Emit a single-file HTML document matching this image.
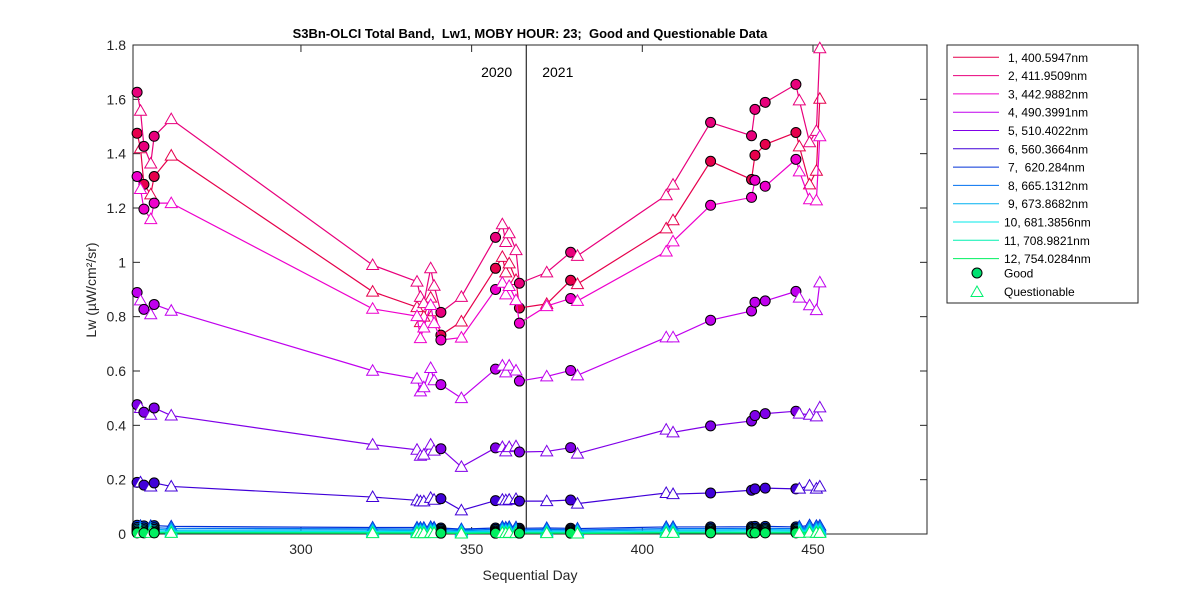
<!DOCTYPE html>
<html><head><meta charset="utf-8"><style>
body{margin:0;background:#fff;}
svg{display:block;font-family:"Liberation Sans",Arial,sans-serif;}
</style></head><body>
<svg id="chart" width="1200" height="600" viewBox="0 0 1200 600" xmlns="http://www.w3.org/2000/svg">
<rect width="1200" height="600" fill="#fff"/>
<g id="plot"></g>
</svg>
<script>
const days=[252,253,254,256,257,262,321,334,335,336,338,339,341,347,357,359,360,361,363,364,372,379,381,407,409,420,432,433,436,445,446,449,451,452];
const good=[1,0,1,0,1,0,0,0,0,0,0,0,1,0,1,0,0,0,0,1,0,1,0,0,0,1,1,1,1,1,0,0,0,0];
const band1=[1.475,1.42,1.287,1.25,1.316,1.393,0.892,0.835,0.78,0.80,0.87,0.82,0.732,0.782,0.978,1.02,0.963,0.996,0.935,0.832,0.847,0.934,0.92,1.125,1.155,1.372,1.305,1.394,1.434,1.478,1.427,1.287,1.337,1.602];
const band2=[1.626,1.558,1.427,1.364,1.464,1.527,0.99,0.929,0.873,0.85,0.978,0.914,0.816,0.873,1.092,1.14,1.075,1.107,1.045,0.923,0.963,1.037,1.024,1.247,1.286,1.515,1.466,1.563,1.589,1.655,1.596,1.442,1.484,1.788];
const band3=[1.316,1.27,1.196,1.159,1.218,1.218,0.829,0.802,0.721,0.76,0.843,0.776,0.714,0.723,0.9,0.925,0.882,0.913,0.861,0.776,0.839,0.867,0.858,1.04,1.077,1.21,1.239,1.302,1.28,1.379,1.335,1.232,1.228,1.464];
const band4=[0.889,0.86,0.827,0.809,0.845,0.822,0.601,0.572,0.525,0.54,0.611,0.566,0.55,0.5,0.607,0.62,0.595,0.62,0.602,0.563,0.58,0.602,0.584,0.724,0.724,0.787,0.821,0.853,0.858,0.893,0.87,0.842,0.824,0.926];
const band5=[0.476,0.464,0.448,0.439,0.464,0.436,0.329,0.31,0.288,0.292,0.329,0.307,0.314,0.247,0.317,0.32,0.304,0.32,0.323,0.302,0.304,0.318,0.296,0.384,0.374,0.398,0.416,0.436,0.443,0.452,0.443,0.439,0.433,0.466];
const band6=[0.19,0.19,0.18,0.175,0.188,0.175,0.136,0.124,0.12,0.12,0.133,0.126,0.13,0.087,0.123,0.126,0.124,0.126,0.129,0.121,0.121,0.125,0.112,0.151,0.147,0.151,0.161,0.166,0.169,0.166,0.167,0.178,0.167,0.175];
const band7=[0.032,0.03,0.03,0.03,0.031,0.028,0.024,0.024,0.023,0.023,0.026,0.024,0.022,0.018,0.022,0.026,0.024,0.026,0.025,0.021,0.022,0.021,0.02,0.026,0.026,0.026,0.027,0.028,0.028,0.026,0.027,0.032,0.03,0.031];
const band8=[0.024,0.023,0.022,0.022,0.023,0.021,0.019,0.018,0.018,0.018,0.02,0.018,0.017,0.014,0.017,0.02,0.018,0.02,0.019,0.016,0.017,0.016,0.015,0.02,0.02,0.02,0.021,0.021,0.021,0.02,0.021,0.025,0.023,0.024];
const band9=[0.018,0.017,0.016,0.016,0.017,0.015,0.014,0.013,0.013,0.013,0.015,0.013,0.012,0.01,0.012,0.015,0.013,0.015,0.014,0.012,0.012,0.012,0.011,0.015,0.015,0.015,0.016,0.016,0.016,0.015,0.016,0.019,0.017,0.018];
const band10=[0.012,0.011,0.011,0.011,0.011,0.01,0.009,0.009,0.009,0.009,0.01,0.009,0.008,0.007,0.008,0.01,0.009,0.01,0.009,0.008,0.008,0.008,0.007,0.01,0.01,0.01,0.011,0.011,0.011,0.01,0.011,0.013,0.012,0.012];
const band11=[0.007,0.006,0.006,0.006,0.006,0.006,0.005,0.005,0.005,0.005,0.006,0.005,0.005,0.004,0.005,0.006,0.005,0.006,0.005,0.005,0.005,0.005,0.004,0.006,0.006,0.006,0.006,0.006,0.006,0.006,0.006,0.008,0.007,0.007];
const band12=[0.004,0.004,0.004,0.004,0.004,0.004,0.003,0.003,0.003,0.003,0.004,0.003,0.003,0.002,0.003,0.004,0.003,0.004,0.003,0.003,0.003,0.003,0.002,0.004,0.004,0.004,0.004,0.004,0.004,0.004,0.004,0.005,0.004,0.004];
const bandLabels=["1, 400.5947nm","2, 411.9509nm","3, 442.9882nm","4, 490.3991nm","5, 510.4022nm","6, 560.3664nm","7,  620.284nm","8, 665.1312nm","9, 673.8682nm","10, 681.3856nm","11, 708.9821nm","12, 754.0284nm"];
const xTicks=[300,350,400,450];
const yTicks=[0,0.2,0.4,0.6,0.8,1,1.2,1.4,1.6,1.8];
const yTickLabels=["0","0.2","0.4","0.6","0.8","1","1.2","1.4","1.6","1.8"];
const yearSplit=366;

const colors=["#e6004c","#e8007c","#ee00cc","#c000ee","#8000e8","#4000d8","#0030d8","#0070f0","#00b0f0","#00e8e8","#00f0b0","#00f060"];
const bands=[band1,band2,band3,band4,band5,band6,band7,band8,band9,band10,band11,band12];
const L=133,R=927,T=45,B=534,XMIN=250.8,XMAX=483.4,YMAX=1.8;
const xs=v=>L+(v-XMIN)/(XMAX-XMIN)*(R-L);
const ys=v=>B-v/YMAX*(B-T);
const NS="http://www.w3.org/2000/svg";
const svg=document.getElementById('chart');
function mk(tag,attrs,parent){const e=document.createElementNS(NS,tag);for(const k in attrs)e.setAttribute(k,attrs[k]);(parent||svg).appendChild(e);return e;}

let ax=mk('rect',{x:L,y:T,width:R-L,height:B-T,fill:'#fff',stroke:'#262626','stroke-width':1});


xTicks.forEach(t=>{
  const x=xs(t);
  let g=mk('g',{});
  
  
  mk('line',{x1:x,x2:x,y1:B,y2:B-7,stroke:'#262626'},g);
  mk('line',{x1:x,x2:x,y1:T,y2:T+7,stroke:'#262626'},g);
  let tx=mk('text',{x:x,y:B+20,'font-size':14,'text-anchor':'middle',fill:'#262626'},g);
  tx.textContent=t;
});
yTicks.forEach((t,i)=>{
  const y=ys(t);
  let g=mk('g',{});
  
  
  mk('line',{x1:L,x2:L+7,y1:y,y2:y,stroke:'#262626'},g);
  mk('line',{x1:R,x2:R-7,y1:y,y2:y,stroke:'#262626'},g);
  let tx=mk('text',{x:L-7,y:y+5,'font-size':14,'text-anchor':'end',fill:'#262626'},g);
  tx.textContent=yTickLabels[i];
});
let yl=mk('line',{x1:xs(yearSplit),x2:xs(yearSplit),y1:T,y2:B,stroke:'#000','stroke-width':1});


let y1=mk('text',{x:xs(yearSplit)-14,y:77,'font-size':14,'text-anchor':'end',fill:'#000'});


y1.textContent='2020';
let y2=mk('text',{x:xs(yearSplit)+16,y:77,'font-size':14,'text-anchor':'start',fill:'#000'});


y2.textContent='2021';

bands.forEach((vals,b)=>{
  let g=mk('g',{});
  
  
  const pts=days.map((d,i)=>xs(d)+','+ys(vals[i])).join(' ');
  mk('polyline',{points:pts,fill:'none',stroke:colors[b],'stroke-width':1.2},g);
  days.forEach((d,i)=>{
    const x=xs(d),y=ys(vals[i]);
    let m;
    if(good[i]){
      m=mk('circle',{cx:x,cy:y,r:5,fill:colors[b],stroke:'#000','stroke-width':1},g);
      
    }else{
      m=mk('polygon',{points:`${x},${y-6} ${x-6},${y+4.5} ${x+6},${y+4.5}`,fill:'#fff',stroke:colors[b],'stroke-width':1},g);
      
    }
    
  });
});

let ti=mk('text',{x:530,y:38,'font-size':13,'font-weight':'bold','text-anchor':'middle',fill:'#000',style:'white-space:pre'});


ti.textContent='S3Bn-OLCI Total Band,  Lw1, MOBY HOUR: 23;  Good and Questionable Data';
let xl=mk('text',{x:530,y:580,'font-size':14,'text-anchor':'middle',fill:'#262626'});


xl.textContent='Sequential Day';
let ylb=mk('text',{x:0,y:0,'font-size':14,'text-anchor':'middle',fill:'#262626',transform:'translate(96,290) rotate(-90)'});


ylb.textContent='Lw (\u00b5W/cm\u00b2/sr)';

let lg=mk('g',{});


mk('rect',{x:947,y:45,width:191,height:258,fill:'#fff',stroke:'#262626','stroke-width':1},lg);
bandLabels.forEach((lab,i)=>{
  const y=57.3+i*18.3;
  let e=mk('g',{},lg);
  
  
  mk('line',{x1:953,x2:999,y1:y,y2:y,stroke:colors[i],'stroke-width':1},e);
  let t=mk('text',{x:i>=9?1004:1008,y:y+4.5,'font-size':12,fill:'#000',style:'white-space:pre'},e);
  t.textContent=lab;
});
let eg=mk('g',{},lg);


mk('circle',{cx:977,cy:273,r:5,fill:'#00e070',stroke:'#000'},eg);
let tg=mk('text',{x:1004,y:277.5,'font-size':12,fill:'#000'},eg);tg.textContent='Good';
let eq=mk('g',{},lg);


mk('polygon',{points:'977,286 971,296.5 983,296.5',fill:'#fff',stroke:'#00f070'},eq);
let tq=mk('text',{x:1004,y:296,'font-size':12,fill:'#000'},eq);tq.textContent='Questionable';
</script>
</body></html>
